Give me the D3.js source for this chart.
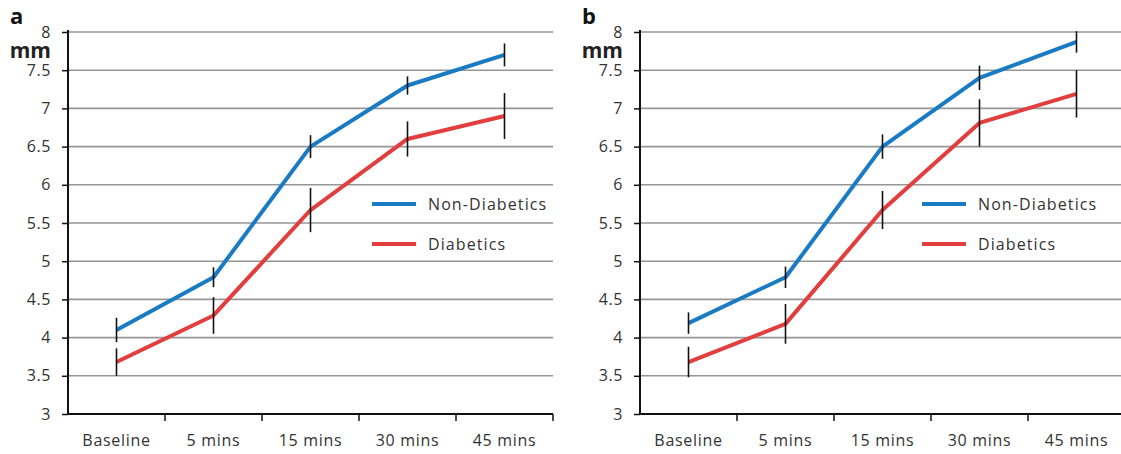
<!DOCTYPE html>
<html><head><meta charset="utf-8">
<script src="https://cdn.jsdelivr.net/npm/d3@7"></script>
<style>
body{margin:0;background:#fff;}
text{font-family:"Open Sans","Noto Sans",sans-serif;}
</style></head>
<body><svg id="c" width="1121" height="454"></svg>
<script>
const categories = ["Baseline","5 mins","15 mins","30 mins","45 mins"];
const yTicks = [3,3.5,4,4.5,5,5.5,6,6.5,7,7.5,8];
const seriesNames = ["Non-Diabetics","Diabetics"];
const seriesColors = ["#1a7bc5","#e23e3e"];
// Panel a
const aNon = [4.1,4.79,6.5,7.3,7.7];
const aNonErr = [0.16,0.13,0.15,0.12,0.15];
const aDia = [3.68,4.29,5.67,6.6,6.9];
const aDiaErr = [0.18,0.24,0.29,0.23,0.30];
// Panel b
const bNon = [4.19,4.79,6.5,7.4,7.87];
const bNonErr = [0.14,0.14,0.16,0.16,0.14];
const bDia = [3.68,4.18,5.67,6.81,7.19];
const bDiaErr = [0.20,0.26,0.25,0.31,0.31];

const panels = [
  {label:"a", x0:68, legX:372, series:[[aNon,aNonErr],[aDia,aDiaErr]]},
  {label:"b", x0:640, legX:922, series:[[bNon,bNonErr],[bDia,bDiaErr]]}
];
const svg = d3.select("#c");
const yTop = 32, yBot = 414, band = 97;
const y = d3.scaleLinear().domain([3,8]).range([yBot,yTop]);

panels.forEach(p=>{
  const g = svg.append("g");
  const x = d3.scaleBand().domain(categories).range([p.x0, p.x0+band*categories.length]).paddingInner(0).paddingOuter(0);
  const right = Math.min(p.x0+band*categories.length, 1121);
  // grid
  g.selectAll(".grid").data(yTicks.filter(t=>t>3)).join("line")
    .attr("x1",p.x0).attr("x2",right).attr("y1",d=>y(d)).attr("y2",d=>y(d))
    .attr("stroke","#969696").attr("stroke-width",1.6);
  // y axis
  const ya = d3.axisLeft(y).tickValues(yTicks).tickSize(6).tickPadding(11).tickFormat(d3.format("~g"));
  const yg = g.append("g").attr("transform",`translate(${p.x0},0)`).call(ya);
  yg.select(".domain").attr("stroke","#111").attr("stroke-width",2).attr("d",`M0,${yTop-2}V${yBot}`);
  yg.selectAll(".tick line").attr("stroke","#111").attr("stroke-width",1.5);
  yg.selectAll(".tick text").attr("font-size",16).attr("letter-spacing",0.6).attr("fill","#333").attr("font-family","Open Sans, sans-serif");
  // x axis
  const xa = d3.axisBottom(x).tickSize(0).tickPadding(21);
  const xg = g.append("g").attr("transform",`translate(0,${yBot})`).call(xa);
  xg.select(".domain").attr("stroke","#111").attr("stroke-width",2).attr("d",`M${p.x0},0H${p.x0+band*5}`);
  xg.selectAll(".tick text").attr("font-size",16).attr("letter-spacing",0.7).attr("fill","#333").attr("font-family","Open Sans, sans-serif");
  // boundary ticks
  g.selectAll(".bt").data(d3.range(1,categories.length+1)).join("line")
    .attr("x1",i=>p.x0+band*i).attr("x2",i=>p.x0+band*i).attr("y1",yBot).attr("y2",yBot+7)
    .attr("stroke","#111").attr("stroke-width",1.5);
  // series
  const line = d3.line().x((d,i)=>x(categories[i])+x.bandwidth()/2).y(d=>y(d));
  p.series.forEach((s,k)=>{
    const [vals,errs] = s;
    g.append("path").datum(vals).attr("d",line).attr("fill","none")
      .attr("stroke",seriesColors[k]).attr("stroke-width",4).attr("stroke-linejoin","round");
  });
  p.series.forEach((s,k)=>{
    const [vals,errs] = s;
    g.selectAll(null).data(vals).join("line")
      .attr("x1",(d,i)=>x(categories[i])+x.bandwidth()/2).attr("x2",(d,i)=>x(categories[i])+x.bandwidth()/2)
      .attr("y1",(d,i)=>y(d+errs[i])).attr("y2",(d,i)=>y(d-errs[i]))
      .attr("stroke","#111").attr("stroke-width",1.6);
  });
  // legend
  seriesNames.forEach((n,k)=>{
    const ly = 204 + k*40;
    g.append("line").attr("x1",p.legX).attr("x2",p.legX+44).attr("y1",ly).attr("y2",ly)
      .attr("stroke",seriesColors[k]).attr("stroke-width",4);
    g.append("text").attr("x",p.legX+56).attr("y",ly+6).attr("font-size",16).attr("letter-spacing",1.1)
      .attr("fill","#333").text(n);
  });
  // panel label and unit
  svg.append("text").attr("x",p.x0-58).attr("y",24).attr("font-size",22).attr("font-weight","bold")
    .attr("font-family","Liberation Sans, Arial, sans-serif").attr("fill","#111").text(p.label);
  svg.append("text").attr("x",p.x0-17).attr("y",58).attr("text-anchor","end").attr("font-size",21).attr("font-weight","bold")
    .attr("font-family","Liberation Sans, Arial, sans-serif").attr("fill","#222").text("mm");
});
</script></body></html>
